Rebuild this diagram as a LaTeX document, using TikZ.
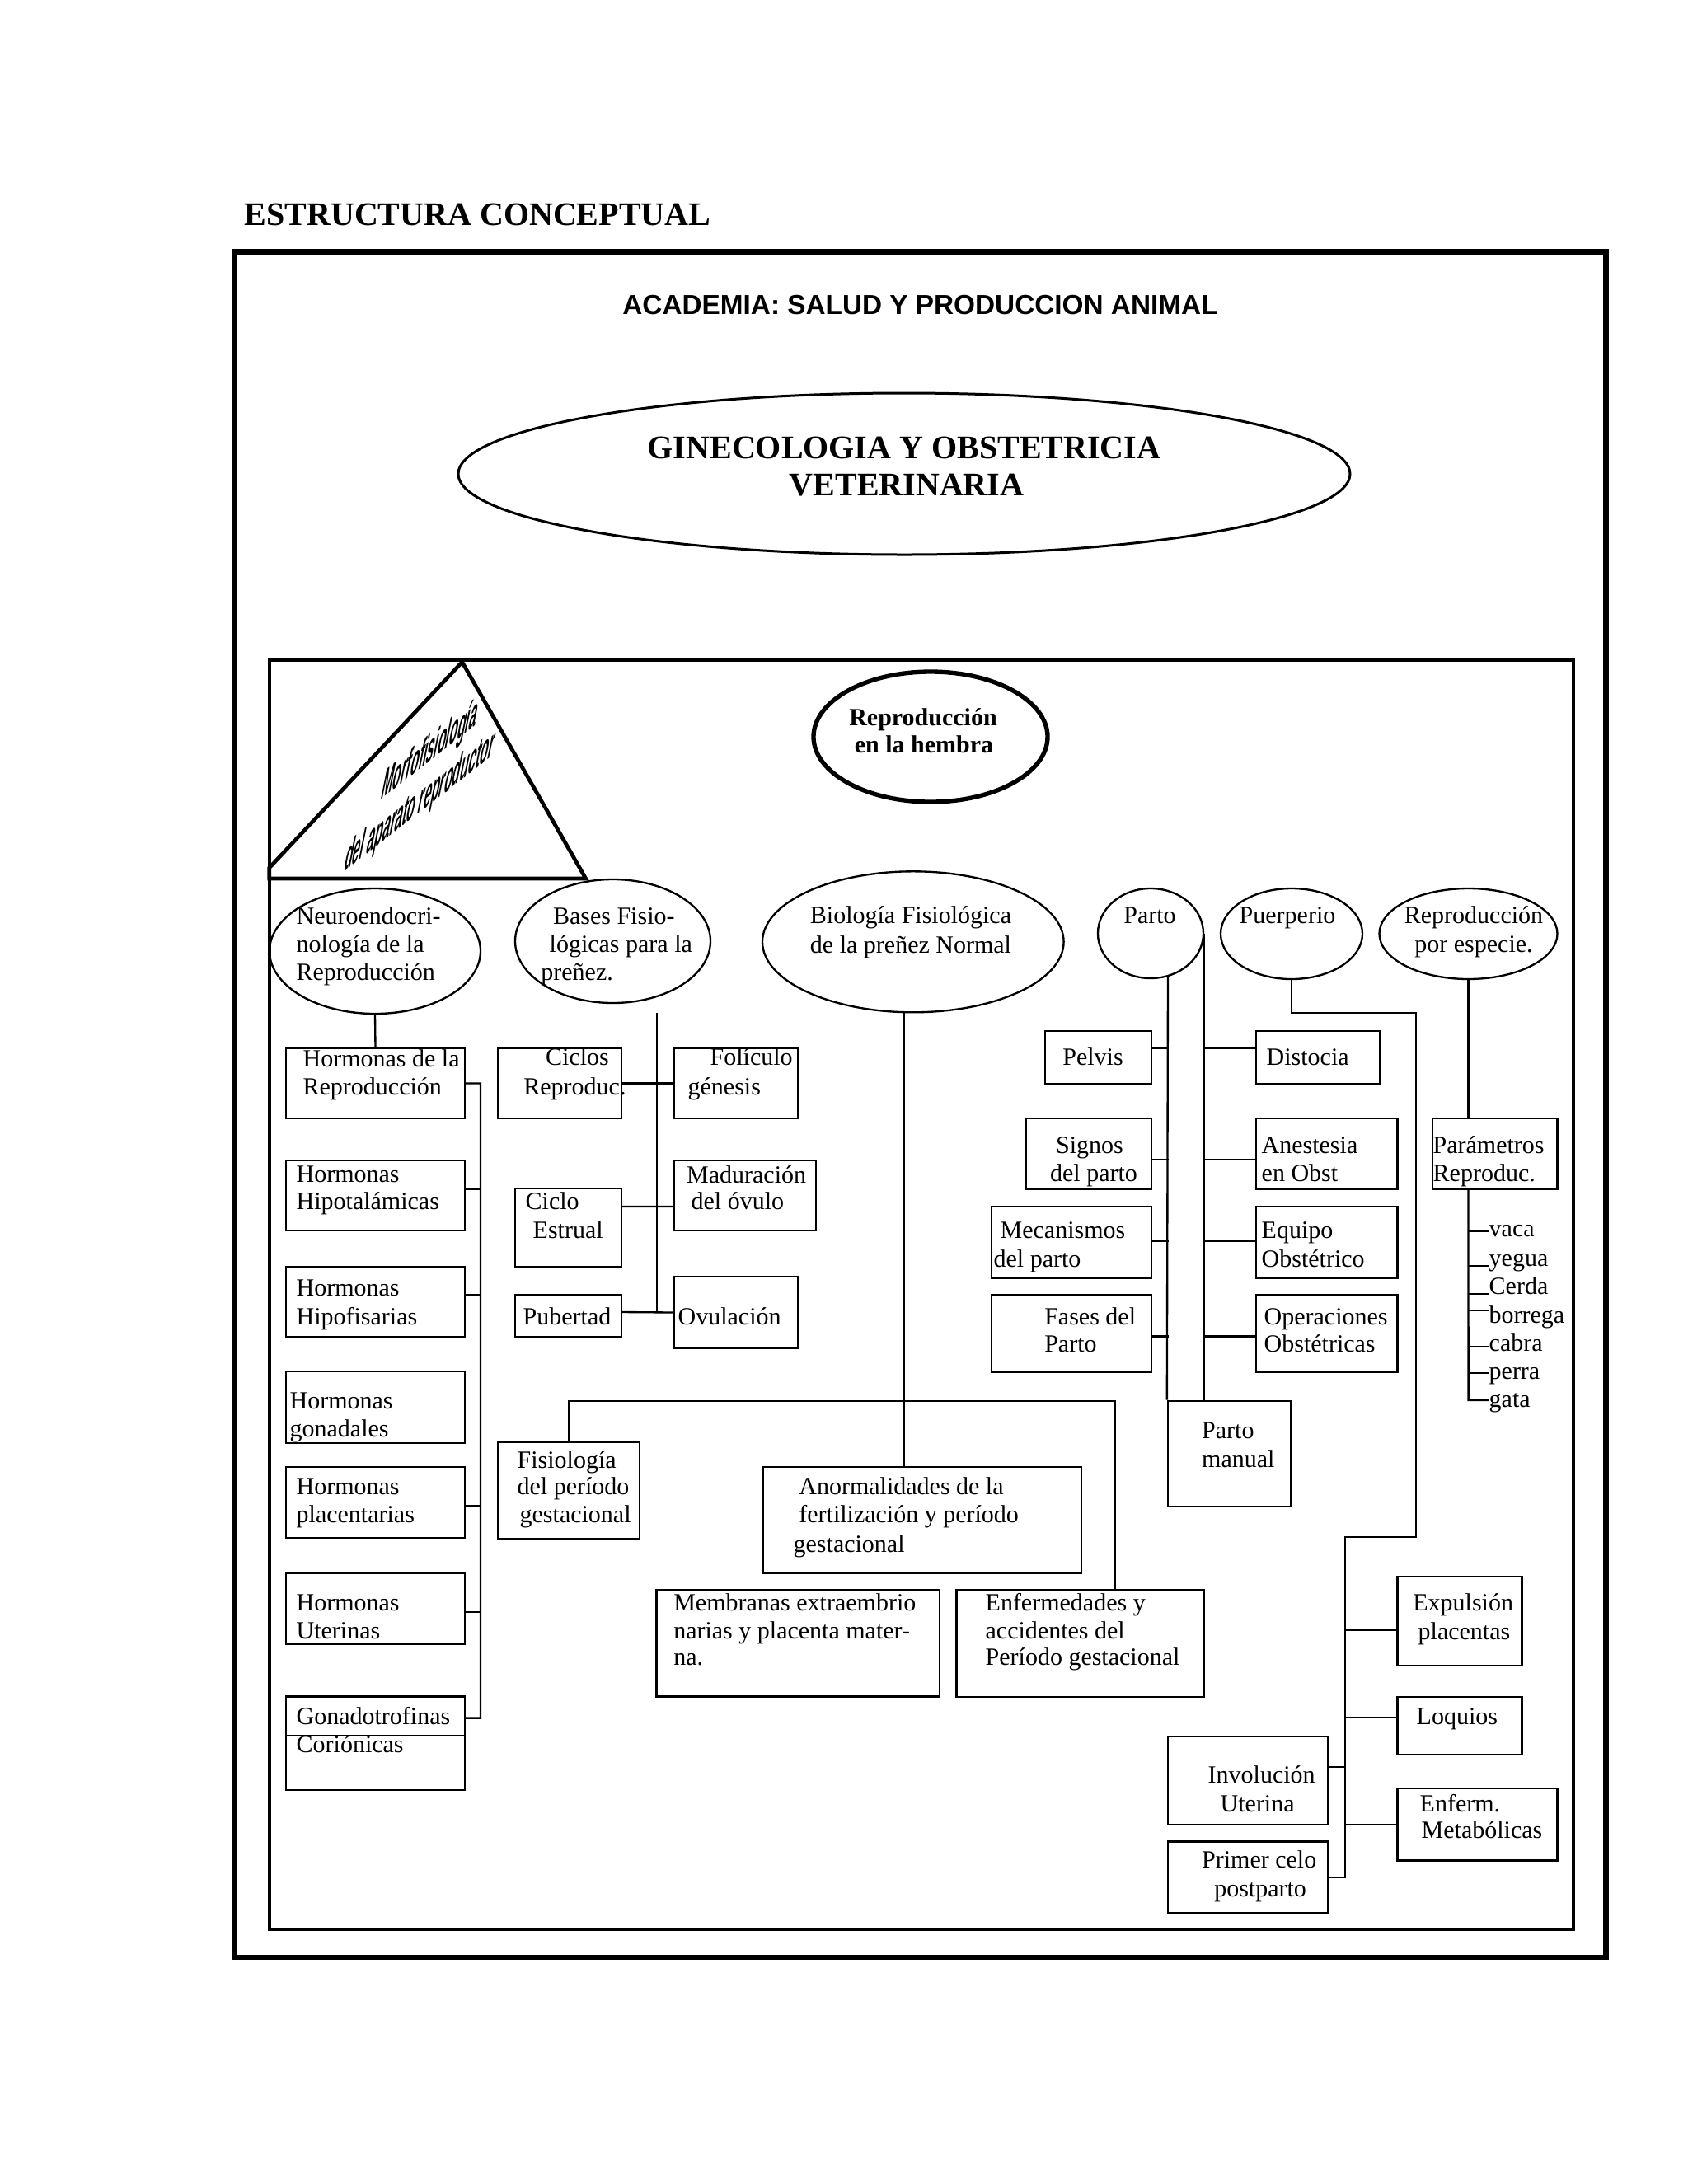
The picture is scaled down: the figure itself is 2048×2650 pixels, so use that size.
\documentclass[tikz,border=0pt]{standalone}
\usepackage{fontspec}
\setmainfont{Liberation Serif}
\newfontfamily\arialf{Liberation Sans}
\usetikzlibrary{shapes.geometric}
\newcommand\rbox[6][]{\node[bx,#1,minimum width={(#5-#3)*0.3pt},minimum height={(#6-#4)*0.3pt}] (#2) at ({(#3+#5)/2},{(#4+#6)/2}) {};}
\newcommand\elnode[6][]{\node[el,#1,minimum width={2*#5*0.3pt},minimum height={2*#6*0.3pt}] (#2) at (#3,#4) {};}
\newcommand\tline[4][]{\node[txt,#1] (#2) at (#3) {#4};}
\begin{document}
\begin{tikzpicture}[x=0.3pt,y=-0.3pt,
  bx/.style={draw,rectangle,inner sep=0pt,line width=0.7pt},
  el/.style={draw,ellipse,inner sep=0pt,line width=0.7pt},
  txt/.style={anchor=base west,inner sep=0pt,font=\fontsize{9}{10.8}\selectfont},
  ctxt/.style={txt,anchor=base},
  conn/.style={line width=0.7pt},
  tick/.style={line width=0.7pt}]
\fill[white] (0,0) rectangle (2048,2650);
\useasboundingbox (0,0) rectangle (2048,2650);

% frames
\rbox[line width=2pt]{outer}{285}{305.7}{1948.3}{2375}
\rbox[line width=1.2pt]{inner}{326.7}{801}{1908.5}{2340.7}

% header texts
\tline[font=\bfseries\fontsize{12}{14}\selectfont]{title}{296,273}{ESTRUCTURA CONCEPTUAL}
\tline[ctxt,font=\arialf\bfseries\fontsize{10}{12}\selectfont]{acad}{1116.5,381}{ACADEMIA: SALUD Y PRODUCCION ANIMAL}

% main ellipse
\elnode[line width=0.9pt]{gin}{1097}{575}{541}{98}
\tline[ctxt,font=\bfseries\fontsize{12}{14}\selectfont]{gin1}{1097,556.7}{GINECOLOGIA Y OBSTETRICIA}
\tline[ctxt,font=\bfseries\fontsize{12}{14}\selectfont]{gin2}{1100,601.7}{VETERINARIA}

% triangle
\draw[line width=1.4pt,line join=miter] (326.7,1053) -- (560.7,803.3) -- (710.7,1066) -- (326.7,1066) -- cycle;
\node[font=\arialf\bfseries\fontsize{16}{18.8}\selectfont,align=center,inner sep=0pt,
  cm={0.30,0.234,0.2,1.0,(0,0)},transform shape] (tri) at (515.5,943) {Morfofisiología\\del aparato reproductor};

% reproduccion en la hembra
\elnode[line width=1.6pt]{hem}{1129}{894}{142}{79}
\tline[ctxt,font=\bfseries\fontsize{9}{11}\selectfont]{hem1}{1120,880}{Reproducción}
\tline[ctxt,font=\bfseries\fontsize{9}{11}\selectfont]{hem2}{1121,913}{en la hembra}

% row of ellipses
\elnode{neuro}{455}{1154}{128}{76}
\elnode{bases}{743.5}{1142}{118.5}{75}
\elnode{bio}{1107.8}{1142.8}{182.8}{85.5}
\elnode{parto}{1396}{1132.5}{64}{54.5}
\elnode{puer}{1567}{1133}{86}{55}
\elnode{rep}{1781.5}{1133}{108}{55}
\tline{neuro1}{359,1121}{Neuroendocri-}
\tline{neuro2}{359,1155}{nología de la}
\tline{neuro3}{359,1189}{Reproducción}
\tline{bases1}{670.4,1121}{Bases Fisio-}
\tline{bases2}{666,1155}{lógicas para la}
\tline{bases3}{655.7,1189}{preñez.}
\tline[ctxt]{bio1}{1105,1120}{Biología Fisiológica}
\tline[ctxt]{bio2}{1105,1156}{de la preñez Normal}
\tline[ctxt]{parto1}{1395,1120}{Parto}
\tline[ctxt]{puer1}{1562,1120}{Puerperio}
\tline[ctxt]{rep1}{1788,1120}{Reproducción}
\tline[ctxt]{rep2}{1788,1155}{por especie.}

% left column
\rbox{hr}{347}{1272}{564}{1357}
\rbox{hh}{347}{1408}{564}{1493}
\rbox{hf}{347}{1537}{564}{1622}
\rbox{hg}{347}{1664}{564}{1751}
\rbox{hp}{347}{1780}{564}{1866}
\rbox{hu}{347}{1908.6}{564}{1995}
\rbox{gc}{347}{2058.6}{564}{2172}
\draw[conn] ([yshift=2.8pt]gc.west) -- ([yshift=2.8pt]gc.east);
\tline{hr1}{367,1294}{Hormonas de la}
\tline{hr2}{367,1328}{Reproducción}
\tline{hh1}{359,1434}{Hormonas}
\tline{hh2}{359,1467}{Hipotalámicas}
\tline{hf1}{359,1572}{Hormonas}
\tline{hf2}{359,1607}{Hipofisarias}
\tline{hg1}{351,1709.5}{Hormonas}
\tline{hg2}{351,1743.6}{gonadales}
\tline{hp1}{359,1813}{Hormonas}
\tline{hp2}{359,1847}{placentarias}
\tline{hu1}{359,1954}{Hormonas}
\tline{hu2}{359,1988}{Uterinas}
\tline{gc1}{359,2092}{Gonadotrofinas}
\tline{gc2}{359,2126}{Coriónicas}

% bases column
\rbox{cr}{604}{1272}{754}{1357}
\rbox{fg}{818}{1272}{968}{1357}
\rbox{mo}{818}{1408}{990}{1493}
\rbox{ce}{625}{1442}{754}{1537}
\rbox{pu}{625}{1571}{754}{1622}
\rbox{ov}{818}{1549}{968}{1636}
\tline{cr1}{661.5,1292}{Ciclos}
\tline{cr2}{634.7,1328}{Reproduc.}
\tline{fg1}{861,1292}{Folículo}
\tline{fg2}{834,1328}{génesis}
\tline{mo1}{832.5,1435}{Maduración}
\tline{mo2}{838,1467}{del óvulo}
\tline{ce1}{637,1467}{Ciclo}
\tline{ce2}{646,1502}{Estrual}
\tline{pu1}{634,1607}{Pubertad}
\tline{ov1}{822,1607}{Ovulación}

% gestation
\rbox{fis}{604}{1750}{776}{1867}
\rbox{anor}{925.6}{1780}{1312}{1908.6}
\rbox{mem}{796.5}{1929}{1139.8}{2058.6}
\rbox{enf}{1160.6}{1929}{1460.5}{2058.7}
\tline{fis1}{627,1781}{Fisiología}
\tline{fis2}{627,1813}{del período}
\tline{fis3}{630,1847}{gestacional}
\tline{anor1}{968.7,1813}{Anormalidades de la}
\tline{anor2}{968.7,1847}{fertilización y período}
\tline{anor3}{962,1883}{gestacional}
\tline{mem1}{816.6,1954}{Membranas extraembrio}
\tline{mem2}{816.6,1988}{narias y placenta mater-}
\tline{mem3}{816.6,2020}{na.}
\tline{enf1}{1195,1954}{Enfermedades y}
\tline{enf2}{1195,1988}{accidentes del}
\tline{enf3}{1195,2020}{Período gestacional}

% parto
\rbox{pel}{1268}{1251}{1397}{1315}
\rbox{sig}{1245}{1357}{1397}{1443}
\rbox{mec}{1203}{1464}{1397}{1551}
\rbox{fas}{1203}{1571}{1397}{1665}
\rbox{dis}{1524}{1251}{1674}{1315}
\rbox{ane}{1524}{1357}{1695.5}{1443}
\rbox{equ}{1524}{1464}{1695.5}{1551}
\rbox{ope}{1524}{1571}{1695.5}{1665}
\rbox{pm}{1417}{1699.7}{1566.5}{1828}
\tline[ctxt]{pel1}{1326,1292}{Pelvis}
\tline[ctxt]{sig1}{1322,1399}{Signos}
\tline[ctxt]{sig2}{1327,1433}{del parto}
\tline{mec1}{1213,1502}{Mecanismos}
\tline{mec2}{1205,1537}{del parto}
\tline{fas1}{1266.6,1607}{Fases del}
\tline{fas2}{1266.6,1640}{Parto}
\tline{dis1}{1536,1292}{Distocia}
\tline{ane1}{1530,1399}{Anestesia}
\tline{ane2}{1530,1433}{en Obst}
\tline{equ1}{1530,1502}{Equipo}
\tline{equ2}{1530,1537}{Obstétrico}
\tline{ope1}{1533,1607}{Operaciones}
\tline{ope2}{1533,1640}{Obstétricas}
\tline{pm1}{1457.5,1745.6}{Parto}
\tline{pm2}{1457.5,1780}{manual}

% especie
\rbox{par}{1738}{1357}{1889.4}{1443}
\tline{par1}{1738,1399}{Parámetros}
\tline{par2}{1738,1433}{Reproduc.}
\tline{s1}{1806,1500.5}{vaca}
\tline{s2}{1806,1536}{yegua}
\tline{s3}{1806,1570}{Cerda}
\tline{s4}{1806,1605}{borrega}
\tline{s5}{1806,1639}{cabra}
\tline{s6}{1806,1673}{perra}
\tline{s7}{1806,1707}{gata}

% puerperio
\rbox{exp}{1695.5}{1913}{1846.4}{2021}
\rbox{loq}{1695.5}{2058.7}{1846.4}{2129}
\rbox{enm}{1695.5}{2170}{1889.4}{2257.5}
\rbox{inv}{1417}{2107}{1610.7}{2214}
\rbox{pc}{1417}{2234.6}{1610.7}{2321}
\tline{exp1}{1713.7,1954.5}{Expulsión}
\tline{exp2}{1720,1989}{placentas}
\tline{loq1}{1718,2092}{Loquios}
\tline{inv1}{1465,2163.4}{Involución}
\tline{inv2}{1480,2198}{Uterina}
\tline{enm1}{1722,2198}{Enferm.}
\tline{enm2}{1724,2230}{Metabólicas}
\tline{pc1}{1457.5,2266.7}{Primer celo}
\tline{pc2}{1472.6,2301}{postparto}

% ---------- connectors ----------
\draw[conn] (neuro.south) -- (hr.north);
\coordinate (bLt) at (583,1314.5);
\coordinate (bLb) at (583,2084.6);
\draw[conn] (hr.east) -- (bLt) -- (bLb) -- ([yshift=9.2pt]gc.east);
\draw[conn] ([yshift=2.25pt]hh.east) -- ++(19,0);
\draw[conn] ([yshift=2.55pt]hf.east) -- ++(19,0);
\draw[conn] ([yshift=-1.35pt]hp.east) -- ++(19,0);
\draw[conn] ([yshift=-1.26pt]hu.east) -- ++(19,0);

\coordinate (bBt) at (797,1229);
\coordinate (bBb) at (797,1592);
\draw[conn] (bBt) -- (bBb);
\draw[conn] (cr.east) -- (fg.west);
\draw[conn] ([yshift=7.65pt]ce.east) -- ([yshift=-4.05pt]mo.west);
\draw[conn] ([yshift=1.35pt]pu.east) -- (ov.west);

\coordinate (bioB) at (1097,1228.5);
\draw[conn] (bioB) -- (bioB |- anor.north);
\coordinate (g1) at (690,1700);
\coordinate (g2) at (1353,1700);
\draw[conn] (fis.north) -- (g1) -- (g2) -- (g2 |- enf.north);

\coordinate (pL) at (1417,1184);
\draw[conn] (pL) -- (pm.north west);
\draw[conn] (parto.east) -- (parto.east |- pm.north);
\draw[conn] ([yshift=3.3pt]pel.east) -- ++(20,0);
\draw[conn] ([yshift=-2.1pt]sig.east) -- ++(20,0);
\draw[conn] ([yshift=0.45pt]mec.east) -- ++(20,0);
\draw[conn] ([yshift=-1.08pt]fas.east) -- ++(20,0);
\draw[conn] ([yshift=3.3pt]dis.west) -- ++(-64,0);
\draw[conn] ([yshift=-2.1pt]ane.west) -- ++(-64,0);
\draw[conn] ([yshift=0.45pt]equ.west) -- ++(-64,0);
\draw[conn] ([yshift=-1.08pt]ope.west) -- ++(-64,0);

\coordinate (q1) at (1567,1229);
\coordinate (q2) at (1718,1229);
\coordinate (q3) at (1718,1865);
\coordinate (q4) at (1632,1865);
\draw[conn] (puer.south) -- (q1) -- (q2) -- (q3) -- (q4) -- (q4 |- pc.east) -- (pc.east);
\draw[conn] ([yshift=-3.3pt]exp.west) -- ++(-63.5,0);
\draw[conn] ([yshift=2.95pt]loq.west) -- ++(-63.5,0);
\draw[conn] (enm.west) -- ++(-63.5,0);
\draw[conn] ([yshift=4.95pt]inv.east) -- ++(21.3,0);

\draw[conn] (rep.south) -- (rep.south |- par.north);
\coordinate (sp) at (1781.6,1699);
\draw[conn] (rep.south |- par.south) -- (sp) -- (sp -| s7.west);
\draw[tick] ([yshift=2.1pt]s1.base west) -- ++(-24.4,0);
\draw[tick] (s2.base west) -- ++(-24.4,0);
\draw[tick] (s3.base west) -- ++(-24.4,0);
\draw[tick] ([yshift=4.5pt]s4.base west) -- ++(-24.4,0);
\draw[tick] ([yshift=1.6pt]s5.base west) -- ++(-24.4,0);
\draw[tick] ([yshift=2.1pt]s6.base west) -- ++(-24.4,0);
\end{tikzpicture}
\end{document}
